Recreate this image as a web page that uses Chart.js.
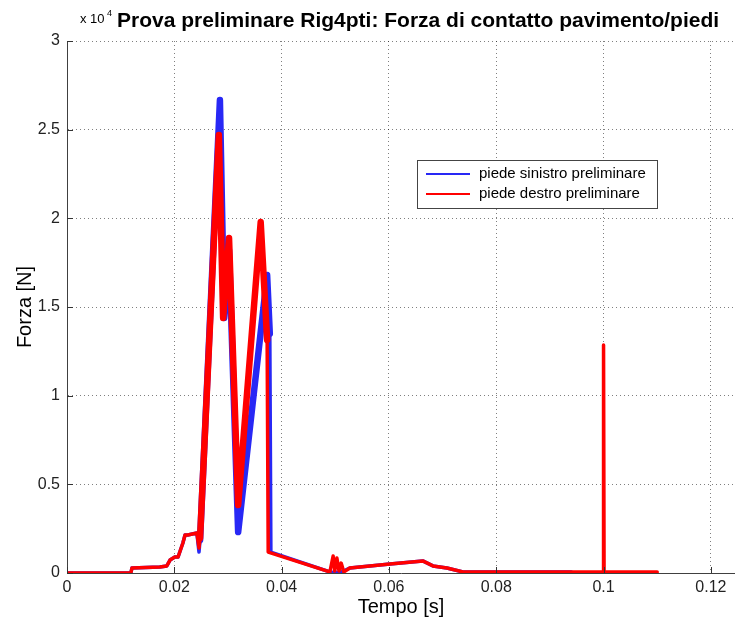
<!DOCTYPE html>
<html lang="it">
<head>
	<meta charset="UTF-8">
	<title>Prova preliminare Rig4pti</title>
	<script src="https://cdn.jsdelivr.net/npm/chart.js@4.4.1/dist/chart.umd.min.js"></script>
	<style>
		html, body { margin: 0; padding: 0; background: #fff; }
		#chart { display: block; }
	</style>
</head>
<body>
	<canvas id="chart" width="735" height="623"></canvas>

	<script type="text/javascript">
	// piede sinistro (blu)
	var leftTime = [0, 0.0119, 0.0121, 0.0173, 0.0186, 0.0192, 0.0201, 0.0207, 0.0216, 0.0220, 0.0225, 0.0242,
		0.0246, 0.0248, 0.0285, 0.0293, 0.0302, 0.0319, 0.0373, 0.0378, 0.0380, 0.0490, 0.0509, 0.0527,
		0.0602, 0.0663, 0.0682, 0.0708, 0.0738, 0.0940];
	var leftForce = [0, 0, 280, 340, 400, 730, 900, 900, 1690, 2140, 2140, 2260,
		1180, 1860, 26670, 14380, 18210, 2310, 16800, 13500, 1180, 60, 30, 280,
		510, 680, 400, 280, 60, 60];

	// piede destro (rosso)
	var rightTime = [0, 0.0119, 0.0121, 0.0173, 0.0186, 0.0192, 0.0201, 0.0207, 0.0216, 0.0220, 0.0225, 0.0242,
		0.0246, 0.0248, 0.0283, 0.0291, 0.0302, 0.0319, 0.0361, 0.0373, 0.0375, 0.0490, 0.0496, 0.0499,
		0.0503, 0.0507, 0.0511, 0.0516, 0.0527, 0.0602, 0.0663, 0.0682, 0.0708, 0.0738, 0.0999, 0.1000,
		0.1001, 0.1100];
	var rightForce = [0, 0, 280, 340, 400, 730, 900, 900, 1690, 2140, 2140, 2260,
		1410, 1970, 24700, 14380, 18890, 3830, 19790, 13140, 1180, 60, 960, 110,
		850, 110, 560, 60, 280, 510, 680, 400, 280, 60, 60, 12860,
		60, 60];

	var xTicks = [0, 0.02, 0.04, 0.06, 0.08, 0.1, 0.12];
	var yTicks = [0, 5000, 10000, 15000, 20000, 25000, 30000];

	var seriesNames = ['piede sinistro preliminare', 'piede destro preliminare'];
	var seriesColors = ['rgb(40, 40, 245)', 'rgb(255, 0, 0)'];

	function toPoints(t, f) {
		return t.map(function (v, i) { return { x: v, y: f[i] }; });
	}

	// i tratti ad alta forza oscillano e appaiono come bande spesse
	function segWidth(c) {
		var a = c.p0.parsed.y, b = c.p1.parsed.y;
		return (Math.min(a, b) > 1300 && Math.max(a, b) > 5000) ? 6.5 : 3.5;
	}

	var fontName = '"Liberation Sans", Arial, sans-serif';

	// titolo, legenda e tacche interne
	var extras = {
		id: 'extras',
		afterDraw: function (chart) {
			var ctx = chart.ctx,
				area = chart.chartArea,
				xs = chart.scales.x,
				ys = chart.scales.y;
			ctx.save();

			// tacche verso l'interno
			ctx.strokeStyle = '#333';
			ctx.lineWidth = 1;
			ctx.setLineDash([]);
			ctx.beginPath();
			xTicks.forEach(function (v) {
				var px = Math.round(xs.getPixelForValue(v)) + 0.5;
				ctx.moveTo(px, area.bottom);
				ctx.lineTo(px, area.bottom - 6);
			});
			yTicks.forEach(function (v) {
				var py = Math.round(ys.getPixelForValue(v)) + 0.5;
				ctx.moveTo(area.left, py);
				ctx.lineTo(area.left + 6, py);
			});
			ctx.stroke();

			// titolo
			ctx.fillStyle = '#000';
			ctx.textBaseline = 'alphabetic';
			ctx.textAlign = 'left';
			ctx.font = 'bold 21px ' + fontName;
			ctx.fillText('Prova preliminare Rig4pti: Forza di contatto pavimento/piedi', 117, 27);

			// moltiplicatore asse y
			ctx.font = '13px ' + fontName;
			ctx.fillText('x 10', 80, 23);
			ctx.font = '9px ' + fontName;
			ctx.fillText('4', 107, 16);

			// legenda
			var lx = 417, ly = 160, lw = 240, lh = 48;
			ctx.fillStyle = '#fff';
			ctx.fillRect(lx, ly, lw, lh);
			ctx.strokeStyle = '#444';
			ctx.strokeRect(lx + 0.5, ly + 0.5, lw, lh);
			ctx.font = '15px ' + fontName;
			ctx.textBaseline = 'middle';
			seriesNames.forEach(function (name, i) {
				var y = ly + 14 + i * 20;
				ctx.strokeStyle = seriesColors[i];
				ctx.lineWidth = 2;
				ctx.beginPath();
				ctx.moveTo(lx + 9, y);
				ctx.lineTo(lx + 53, y);
				ctx.stroke();
				ctx.fillStyle = '#000';
				ctx.fillText(name, lx + 62, y);
			});
			ctx.restore();
		}
	};

	new Chart(document.getElementById('chart').getContext('2d'), {
		type: 'line',
		data: {
			datasets: [{
				label: seriesNames[0],
				data: toPoints(leftTime, leftForce),
				borderColor: seriesColors[0],
				borderWidth: 3.5,
				segment: { borderWidth: segWidth },
				order: 1
			}, {
				label: seriesNames[1],
				data: toPoints(rightTime, rightForce),
				borderColor: seriesColors[1],
				borderWidth: 3.5,
				segment: { borderWidth: segWidth },
				order: 0
			}]
		},
		options: {
			responsive: false,
			animation: false,
			devicePixelRatio: 1,
			layout: { padding: { top: 41, right: 0, left: 0, bottom: 0 } },
			elements: {
				point: { radius: 0 },
				line: { tension: 0, fill: false, borderJoinStyle: 'round', borderCapStyle: 'round' }
			},
			plugins: {
				legend: { display: false },
				title: { display: false },
				tooltip: { enabled: false }
			},
			scales: {
				x: {
					type: 'linear',
					min: 0,
					max: 0.1245,
					afterBuildTicks: function (scale) {
						scale.ticks = xTicks.map(function (v) { return { value: v }; });
					},
					afterFit: function (scale) { scale.height = 50; },
					ticks: {
						color: '#222',
						padding: 5,
						maxRotation: 0,
						font: { family: fontName, size: 16 },
						callback: function (v) { return v === 0 ? '0' : String(+v.toFixed(2)); }
					},
					grid: { color: 'rgba(0,0,0,0.5)', lineWidth: 1, drawTicks: false },
					border: { color: '#404040', width: 1, dash: [1, 3] },
					title: {
						display: true,
						text: 'Tempo [s]',
						color: '#000',
						font: { family: fontName, size: 20 },
						padding: { top: 0, bottom: 4 }
					}
				},
				y: {
					min: 0,
					max: 30000,
					afterBuildTicks: function (scale) {
						scale.ticks = yTicks.map(function (v) { return { value: v }; });
					},
					afterFit: function (scale) { scale.width = 67; },
					ticks: {
						color: '#222',
						padding: 7,
						font: { family: fontName, size: 16 },
						callback: function (v) { return String(v / 10000); }
					},
					grid: { color: 'rgba(0,0,0,0.5)', lineWidth: 1, drawTicks: false },
					border: { color: '#404040', width: 1, dash: [1, 3] },
					title: {
						display: true,
						text: 'Forza [N]',
						color: '#000',
						font: { family: fontName, size: 20 },
						padding: { top: 13, bottom: 0 }
					}
				}
			}
		},
		plugins: [extras]
	});
	</script>
</body>
</html>
